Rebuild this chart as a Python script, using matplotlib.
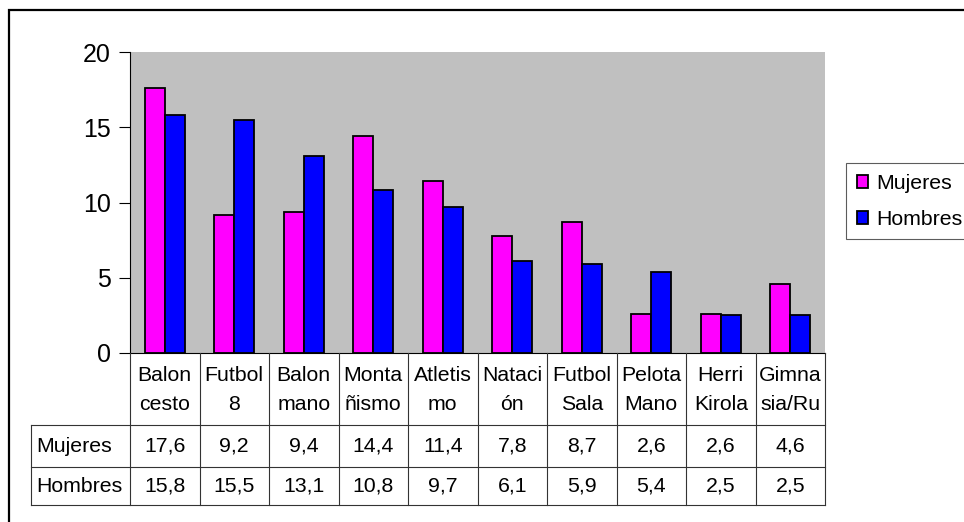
import numpy as np
import matplotlib.pyplot as plt
from matplotlib.patches import Rectangle

plt.rcParams['font.family'] = ['Liberation Sans', 'DejaVu Sans']

categories = ["Balon\ncesto", "Futbol\n8", "Balon\nmano", "Monta\nñismo", "Atletis\nmo",
              "Nataci\nón", "Futbol\nSala", "Pelota\nMano", "Herri\nKirola", "Gimna\nsia/Ru"]
mujeres = [17.6, 9.2, 9.4, 14.4, 11.4, 7.8, 8.7, 2.6, 2.6, 4.6]
hombres = [15.8, 15.5, 13.1, 10.8, 9.7, 6.1, 5.9, 5.4, 2.5, 2.5]
series = [("Mujeres", mujeres, "#FF00FF"), ("Hombres", hombres, "#0000FF")]

W, H = 964, 522
fig = plt.figure(figsize=(W / 100, H / 100), dpi=100)

def px_axes(x0, y0, x1, y1):
    # pixel box (top-left origin) -> figure fraction
    return [x0 / W, 1 - y1 / H, (x1 - x0) / W, (y1 - y0) / H]

# outer chart border (only top/left visible)
fig.patches.append(Rectangle((9 / W, -0.1), 1.2, 1 - 10 / H + 0.1, transform=fig.transFigure,
                             fill=False, edgecolor="black", linewidth=1.6))

ax = fig.add_axes(px_axes(130, 52, 825, 353))
ax.set_facecolor("#C0C0C0")
n = len(categories)
x = np.arange(n)
bw = 0.288
ax.bar(x + 0.5 - bw / 2, mujeres, bw, color="#FF00FF", edgecolor="black", linewidth=1.3, label="Mujeres")
ax.bar(x + 0.5 + bw / 2, hombres, bw, color="#0000FF", edgecolor="black", linewidth=1.3, label="Hombres")
ax.set_xlim(0, n)
ax.set_ylim(0, 20)
ax.set_yticks([0, 5, 10, 15, 20])
ax.set_xticks([])
for s in ["top", "right"]:
    ax.spines[s].set_visible(False)
ax.spines["left"].set_linewidth(0.8)
ax.spines["bottom"].set_linewidth(0.8)
ax.tick_params(axis="y", length=8, width=0.8, labelsize=18, pad=6)

# data table below the plot
tax = fig.add_axes(px_axes(31, 353, 825, 505))
left = -(130 - 31) / 69.5
tax.set_xlim(left, n)
tax.set_ylim(152, 0)
tax.axis("off")
lc = "#333333"
lw = 0.8
rows = [0, 72, 114, 152]
for i in range(n + 1):
    tax.plot([i, i], [0, 152], color=lc, lw=lw, clip_on=False)
tax.plot([left, left], [72, 152], color=lc, lw=lw, clip_on=False)
for r in rows[1:]:
    tax.plot([left, n], [r, r], color=lc, lw=lw, clip_on=False)
fs = 15.3
for i, c in enumerate(categories):
    tax.text(i + 0.5, 37, c, ha="center", va="center", fontsize=fs, linespacing=1.65)
for (name, vals, col), (r0, r1) in zip(series, [(72, 114), (114, 152)]):
    yc = (r0 + r1) / 2
    tax.text(left + 0.07, yc, name, ha="left", va="center", fontsize=fs)
    for i, v in enumerate(vals):
        tax.text(i + 0.5, yc, f"{v:.1f}".replace(".", ","), ha="center", va="center", fontsize=fs)

leg = ax.legend(loc="upper left", bbox_to_anchor=(846 / W, 1 - 163 / H), bbox_transform=fig.transFigure,
                fontsize=15.3, frameon=True, fancybox=False, edgecolor="#333333",
                handlelength=0.55, handleheight=0.55, handletextpad=0.35, borderpad=0.5,
                labelspacing=0.8, borderaxespad=0)
leg.get_frame().set_linewidth(0.8)

fig.savefig("out.png", dpi=100)
